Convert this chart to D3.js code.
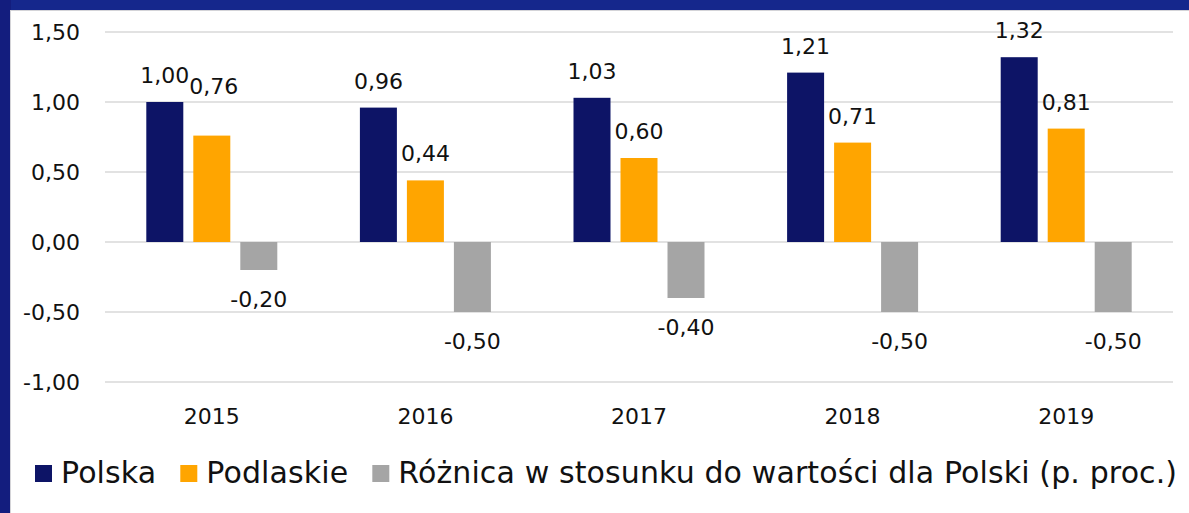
<!DOCTYPE html>
<html>
<head>
<meta charset="utf-8">
<script src="https://cdn.jsdelivr.net/npm/d3@7"></script>
<style>
  html, body { margin: 0; padding: 0; background: #fff; }
  svg text { font-family: "DejaVu Sans", sans-serif; fill: #111; }
</style>
</head>
<body>
<div id="chart"></div>
<script>
var years = ["2015", "2016", "2017", "2018", "2019"];
var series = ["Polska", "Podlaskie", "Różnica w stosunku do wartości dla Polski (p. proc.)"];
var polska = [1.00, 0.96, 1.03, 1.21, 1.32];
var podlaskie = [0.76, 0.44, 0.60, 0.71, 0.81];
var roznica = [-0.20, -0.50, -0.40, -0.50, -0.50];
var yTicks = [-1, -0.5, 0, 0.5, 1, 1.5];

var width = 1189, height = 513;
var colors = ["#0d1466", "#ffa500", "#a5a5a5"];
var values = [polska, podlaskie, roznica];

var pl = d3.formatLocale({decimal: ",", thousands: " ", grouping: [3], currency: ["", " zł"], minus: "-"});
var fmt = pl.format(".2f");

var svg = d3.select("#chart").append("svg")
  .attr("width", width)
  .attr("height", height);

// blue frame of the slide, white panel inside
svg.append("rect").attr("width", width).attr("height", height).attr("fill", "#15278c");
svg.append("rect").attr("x", 0).attr("y", 0).attr("width", 11).attr("height", height).attr("fill", "#131d7e");
svg.append("rect").attr("x", 10).attr("y", 10).attr("width", width).attr("height", height).attr("fill", "#d4d4d8");
svg.append("rect").attr("x", 11).attr("y", 11).attr("width", width).attr("height", height).attr("fill", "#ffffff");

var x0 = d3.scaleBand().domain(years).range([105, 1173]);
var x1 = d3.scaleBand().domain(series).range([-65.5, 65.5]).paddingInner(10 / 47);
var y = d3.scaleLinear().domain([-1, 1.5]).range([382, 32]);

// grid
svg.append("g").selectAll("line")
  .data(yTicks)
  .enter().append("line")
  .attr("x1", 105).attr("x2", 1173)
  .attr("y1", function(d) { return y(d); })
  .attr("y2", function(d) { return y(d); })
  .attr("stroke", "#d9d9d9")
  .attr("stroke-width", 1.5);

var yAxis = d3.axisLeft(y).tickValues(yTicks).tickSize(0).tickPadding(0).tickFormat(fmt);
var gy = svg.append("g").attr("transform", "translate(80,0)").call(yAxis);
gy.select(".domain").remove();
gy.selectAll("text").style("font-size", "22px").attr("fill", "#111");

var xAxis = d3.axisBottom(x0).tickSize(0).tickPadding(0);
var gx = svg.append("g").attr("transform", "translate(0,424)").call(xAxis);
gx.select(".domain").remove();
gx.selectAll("text").style("font-size", "22px").attr("fill", "#111").attr("dy", 0);

// bars
var rows = [];
years.forEach(function(yr, i) {
  series.forEach(function(s, j) {
    rows.push({year: yr, series: s, idx: j, value: values[j][i]});
  });
});

var bx = function(d) { return x0(d.year) + x0.bandwidth() / 2 + x1(d.series); };

svg.append("g").selectAll("rect")
  .data(rows)
  .enter().append("rect")
  .attr("x", bx)
  .attr("width", x1.bandwidth())
  .attr("y", function(d) { return y(Math.max(0, d.value)); })
  .attr("height", function(d) { return Math.abs(y(d.value) - y(0)); })
  .attr("fill", function(d) { return colors[d.idx]; });

// labels; the first Podlaskie label sits higher so it clears the Polska one
svg.append("g").selectAll("text")
  .data(rows)
  .enter().append("text")
  .attr("x", function(d) { return bx(d) + x1.bandwidth() / 2 + ((d.idx === 1 && d.year === "2015") ? 2 : 0); })
  .attr("y", function(d) {
    if (d.value < 0) return y(d.value) + 37;
    var lift = (d.idx === 1 && d.year === "2015") ? 23 : 0;
    return y(d.value) - 19 - lift;
  })
  .attr("text-anchor", "middle")
  .style("font-size", "22px")
  .text(function(d) { return fmt(d.value); });

// legend
var legend = svg.append("g").attr("transform", "translate(35,0)");
var lx = 0;
series.forEach(function(s, j) {
  legend.append("rect").attr("x", lx).attr("y", 465).attr("width", 17).attr("height", 17).attr("fill", colors[j]);
  var t = legend.append("text").attr("x", lx + 26).attr("y", 483)
    .style("font-size", "30px").style("letter-spacing", "0.12px").text(s);
  lx += 26 + t.node().getComputedTextLength() + 24;
});
</script>
</body>
</html>
